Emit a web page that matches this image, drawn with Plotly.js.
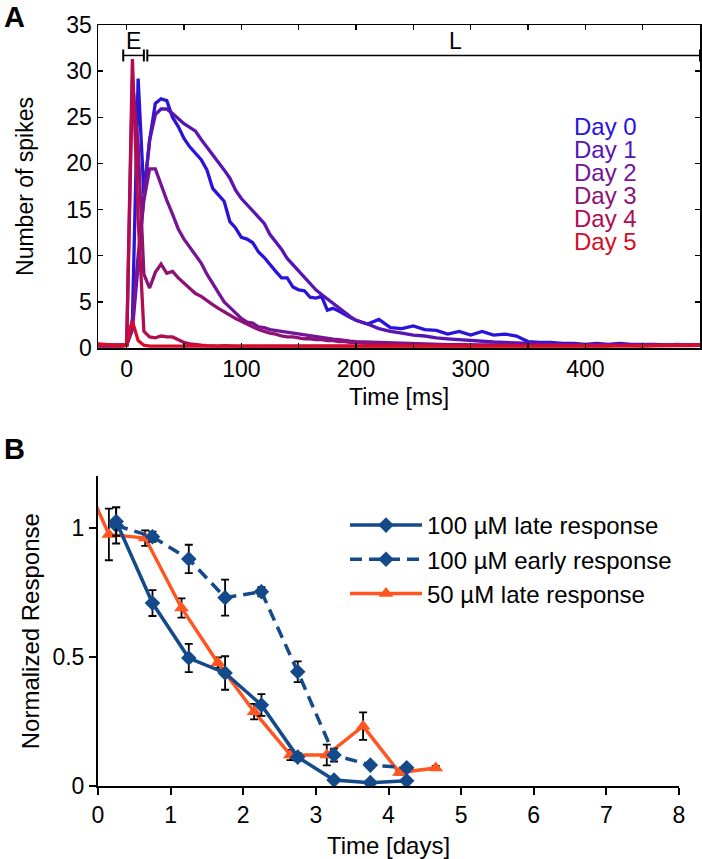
<!DOCTYPE html>
<html><head><meta charset="utf-8">
<script src="https://cdn.plot.ly/plotly-3.0.1.min.js"></script>
<style>html,body{margin:0;padding:0;background:#fff}#chart{width:702px;height:859px}</style>
</head><body><div id="chart"></div>
<script>
// ---------- Panel A data ----------
const timeMs = [-25,-20,-15,-10,-5,0,5,10,15,20,25,30,35,40,45,50,55,60,65,70,75,80,85,90,95,100,
  105,110,115,120,125,130,135,140,145,150,155,160,165,170,175,180,185,190,195,200,
  210,220,230,240,250,260,270,280,290,300,310,320,330,340,350,360,370,380,390,400,
  410,420,430,440,450,460,470,480,490,500];
const day0 = [0.3,0.3,0.2,0.3,0.3,0.3,
  3,29.2,16.7,22.5,26.5,27.0,26.8,25.0,24.0,22.7,
  21.8,21.1,20.4,19.3,17.3,16.6,15.9,13.7,13.0,12.0,
  11.8,11.4,10.4,9.8,9.0,8.3,7.6,7.6,6.6,6.3,
  6.2,5.5,5.4,5.6,4.1,4.3,4.0,3.6,3.3,3.0,
  2.6,3.1,2.2,2.1,2.4,2.0,1.9,1.5,1.8,1.4,
  1.8,1.4,1.5,1.3,0.7,0.6,0.6,0.5,0.5,0.4,
  0.5,0.4,0.5,0.4,0.4,0.4,0.3,0.4,0.3,0.3];
const day1 = [0.3,0.3,0.3,0.2,0.3,0.3,
  2,9,16.5,22.5,25.3,25.9,25.9,25.4,24.8,24.3,
  23.9,23.5,22.6,21.8,21.0,20.2,19.3,18.4,17.1,16.2,
  15.5,14.9,14.1,13.5,12.3,11.5,10.7,9.7,9.0,8.3,
  7.7,7.0,6.3,5.8,5.3,4.9,4.4,3.9,3.4,3.0,
  2.6,2.1,1.8,1.6,1.4,1.3,1.1,1.0,0.9,0.8,
  0.7,0.65,0.6,0.55,0.5,0.45,0.4,0.4,0.35,0.3,
  0.3,0.35,0.3,0.3,0.3,0.25,0.3,0.3,0.3,0.3];
const day2 = [0.3,0.2,0.3,0.3,0.3,0.3,
  3,10,16,19.4,19.4,17.6,16.0,14.5,12.9,11.8,
  10.9,10.0,9.2,8.0,7.0,5.9,5.0,4.4,3.8,3.2,
  2.8,2.7,2.3,2.2,2.0,1.9,1.8,1.7,1.6,1.5,
  1.4,1.3,1.2,1.1,1.0,0.95,0.9,0.8,0.75,0.7,
  0.65,0.6,0.55,0.5,0.45,0.4,0.4,0.35,0.35,0.3,
  0.3,0.3,0.35,0.3,0.3,0.3,0.25,0.3,0.3,0.3,
  0.3,0.25,0.3,0.3,0.3,0.3,0.3,0.25,0.3,0.3];
const day3 = [0.3,0.3,0.3,0.3,0.2,0.3,
  29,22,8.0,6.5,8.2,9.1,8.1,8.3,7.6,7.0,
  6.4,5.9,5.6,5.1,4.7,4.3,3.9,3.6,3.2,2.9,
  2.6,2.3,2.0,1.8,1.6,1.5,1.3,1.2,1.2,1.1,
  1.0,1.0,0.9,0.9,0.8,0.8,0.7,0.7,0.6,0.6,
  0.5,0.5,0.45,0.4,0.4,0.35,0.3,0.3,0.35,0.3,
  0.3,0.3,0.3,0.3,0.25,0.3,0.3,0.3,0.3,0.3,
  0.3,0.3,0.25,0.3,0.3,0.3,0.3,0.3,0.3,0.3];
const day4 = [0.2,0.2,0.25,0.2,0.2,0.3,
  31.3,14,1.8,1.2,1.1,1.3,1.2,1.2,0.9,0.6,
  0.45,0.35,0.3,0.25,0.2,0.2,0.25,0.2,0.2,0.2,
  0.2,0.2,0.25,0.2,0.2,0.2,0.2,0.2,0.25,0.2,
  0.2,0.2,0.2,0.25,0.2,0.2,0.2,0.2,0.2,0.2,
  0.2,0.25,0.2,0.2,0.2,0.25,0.2,0.2,0.2,0.25,
  0.2,0.2,0.2,0.25,0.2,0.2,0.2,0.25,0.2,0.2,
  0.2,0.25,0.2,0.2,0.2,0.25,0.2,0.2,0.25,0.3];
const day5 = [0.45,0.4,0.3,0.3,0.3,0.3,
  2.9,0.8,0.3,0.2,0.2,0.2,0.15,0.2,0.2,0.15,
  0.2,0.15,0.2,0.2,0.15,0.2,0.2,0.15,0.2,0.2,
  0.15,0.2,0.2,0.15,0.2,0.2,0.2,0.15,0.2,0.2,
  0.2,0.15,0.2,0.2,0.2,0.15,0.2,0.2,0.2,0.2,
  0.2,0.15,0.2,0.2,0.2,0.2,0.15,0.2,0.2,0.2,
  0.2,0.2,0.15,0.2,0.2,0.2,0.2,0.15,0.2,0.2,
  0.2,0.2,0.25,0.2,0.2,0.25,0.3,0.3,0.3,0.3];
const dayNames = ['Day 0','Day 1','Day 2','Day 3','Day 4','Day 5'];
const daySeries = [day0, day1, day2, day3, day4, day5];
const dayColors = ['rgb(40,20,218)','rgb(88,20,180)','rgb(118,20,150)','rgb(140,18,118)','rgb(178,12,82)','rgb(215,12,40)'];
const epochNames = ['E','L'];
const epochStart = [-3, 18];
const epochEnd = [15, 500];
const epochLabelX = [6, 287];
const xTicksA = [0,50,100,150,200,250,300,350,400,450];
const xTickTextA = ['0','','100','','200','','300','','400',''];

// ---------- Panel B data ----------
const days100 = [0.25,0.75,1.25,1.75,2.25,2.75,3.25,3.75,4.25];
const late100 = [1.025,0.709,0.496,0.438,0.314,0.112,0.023,0.013,0.02];
const late100Err = [0.055,0.05,0.055,0.065,0.042,0.015,0.006,0.006,0.006];
const early100 = [1.01,0.966,0.88,0.73,0.753,0.443,0.12,0.081,0.071];
const early100Err = [0.07,0.02,0.055,0.07,0.018,0.04,0.025,0.01,0.008];
const days50 = [-0.35,0.15,0.65,1.15,1.65,2.15,2.65,3.15,3.65,4.15,4.65];
const late50 = [1.29,0.975,0.961,0.69,0.478,0.288,0.12,0.12,0.232,0.052,0.07];
const late50Err = [0,0.1,0.03,0.037,0.02,0.03,0.02,0.04,0.053,0.008,0.008];
const seriesNamesB = ['100 µM late response','100 µM early response','50 µM late response'];
const yTicksB = [0,0.5,1];
const yTickTextB = ['0','0.5','1'];

const FONT = 'Liberation Sans, Arial, sans-serif';
const W = 702, H = 859;
const blue = '#14498a', orange = '#ff5520';

const traces = [];
daySeries.forEach((s, i) => {
  traces.push({x: timeMs, y: s, type: 'scatter', mode: 'lines', xaxis: 'x', yaxis: 'y',
    line: {color: dayColors[i], width: 3.3}, showlegend: false, hoverinfo: 'skip', name: dayNames[i]});
});
traces.push({x: days50, y: late50, type: 'scatter', mode: 'lines+markers', xaxis: 'x2', yaxis: 'y2',
  name: seriesNamesB[2], legendrank: 3,
  line: {color: orange, width: 3.5}, marker: {symbol: 'triangle-up', size: 13, color: orange},
  error_y: {type: 'data', array: late50Err, color: 'black', thickness: 1.8, width: 4}});
traces.push({x: days100, y: early100, type: 'scatter', mode: 'lines+markers', xaxis: 'x2', yaxis: 'y2',
  name: seriesNamesB[1], legendrank: 2,
  line: {color: blue, width: 3.5, dash: '12px,7px'}, marker: {symbol: 'diamond', size: 12, color: blue},
  error_y: {type: 'data', array: early100Err, color: 'black', thickness: 1.8, width: 4}});
traces.push({x: days100, y: late100, type: 'scatter', mode: 'lines+markers', xaxis: 'x2', yaxis: 'y2',
  name: seriesNamesB[0], legendrank: 1,
  line: {color: blue, width: 3.5}, marker: {symbol: 'diamond', size: 12, color: blue},
  error_y: {type: 'data', array: late100Err, color: 'black', thickness: 1.8, width: 4}});

const shapes = [];
const annotations = [];
const eY = 31.7, capH = 0.65;
epochNames.forEach((n, i) => {
  shapes.push({type: 'line', xref: 'x', yref: 'y', x0: epochStart[i], x1: epochEnd[i], y0: eY, y1: eY, line: {color: 'black', width: 1.5}});
  [epochStart[i], epochEnd[i]].forEach(xx => shapes.push({type: 'line', xref: 'x', yref: 'y', x0: xx, x1: xx, y0: eY - capH, y1: eY + capH, line: {color: 'black', width: 2}}));
  annotations.push({text: n, xref: 'x', yref: 'y', x: epochLabelX[i], y: 33.3, showarrow: false, font: {family: FONT, size: 23, color: 'black'}});
});
dayNames.forEach((n, i) => {
  annotations.push({text: n, xref: 'x', yref: 'y', x: 388, y: 24.0 - 2.5 * i, xanchor: 'left', yanchor: 'middle', showarrow: false,
    font: {family: FONT, size: 24, color: dayColors[i]}});
});
annotations.push({text: '<b>A</b>', xref: 'paper', yref: 'paper', x: 2 / W, y: 1 - 17 / H, xanchor: 'left', yanchor: 'middle', showarrow: false, font: {family: FONT, size: 29, color: 'black'}});
annotations.push({text: '<b>B</b>', xref: 'paper', yref: 'paper', x: 2 / W, y: 1 - 449 / H, xanchor: 'left', yanchor: 'middle', showarrow: false, font: {family: FONT, size: 29, color: 'black'}});

const axA = {showline: true, linecolor: 'black', linewidth: 1.5, mirror: 'ticks', ticks: 'inside', ticklen: 5, tickwidth: 1.5, tickcolor: 'black',
  showgrid: false, zeroline: false, tickfont: {family: FONT, size: 23, color: 'black'}};
const axB = {showline: true, linecolor: 'black', linewidth: 2, ticks: 'outside', ticklen: 7, tickwidth: 2, tickcolor: 'black',
  showgrid: false, zeroline: false, tickfont: {family: FONT, size: 23, color: 'black'}};

const layout = {
  width: W, height: H, margin: {l: 0, r: 0, t: 0, b: 0, autoexpand: false}, paper_bgcolor: 'white', plot_bgcolor: 'white',
  font: {family: FONT, color: 'black'},
  xaxis: Object.assign({}, axA, {domain: [98 / W, 700 / W], range: [-25, 500], anchor: 'y', tickmode: 'array', tickvals: xTicksA, ticktext: xTickTextA,
    automargin: true, title: {text: 'Time [ms]', standoff: 8, font: {family: FONT, size: 23}}}),
  yaxis: Object.assign({}, axA, {domain: [1 - 348 / H, 1 - 25 / H], range: [0, 35], anchor: 'x', dtick: 5,
    automargin: true, title: {text: 'Number of spikes', standoff: 26, font: {family: FONT, size: 23}}}),
  xaxis2: Object.assign({}, axB, {domain: [98 / W, 679 / W], range: [0, 8], anchor: 'y2', dtick: 1, automargin: false,
    title: {text: 'Time [days]', font: {family: FONT, size: 24}}}),
  yaxis2: Object.assign({}, axB, {domain: [1 - 786 / H, 1 - 476.4 / H], range: [0, 1.2], anchor: 'x2', tickmode: 'array', tickvals: yTicksB, ticktext: yTickTextB,
    automargin: false, title: {text: 'Normalized Response', font: {family: FONT, size: 24}}}),
  showlegend: true,
  legend: {x: 345 / W, y: 1 - 503 / H, xanchor: 'left', yanchor: 'top', bgcolor: 'rgba(0,0,0,0)', itemwidth: 72,
    font: {family: FONT, size: 24, color: 'black'}, traceorder: 'normal'},
  shapes: shapes, annotations: annotations
};
Plotly.newPlot('chart', traces, layout, {displayModeBar: false, staticPlot: true});
</script>
</body></html>
